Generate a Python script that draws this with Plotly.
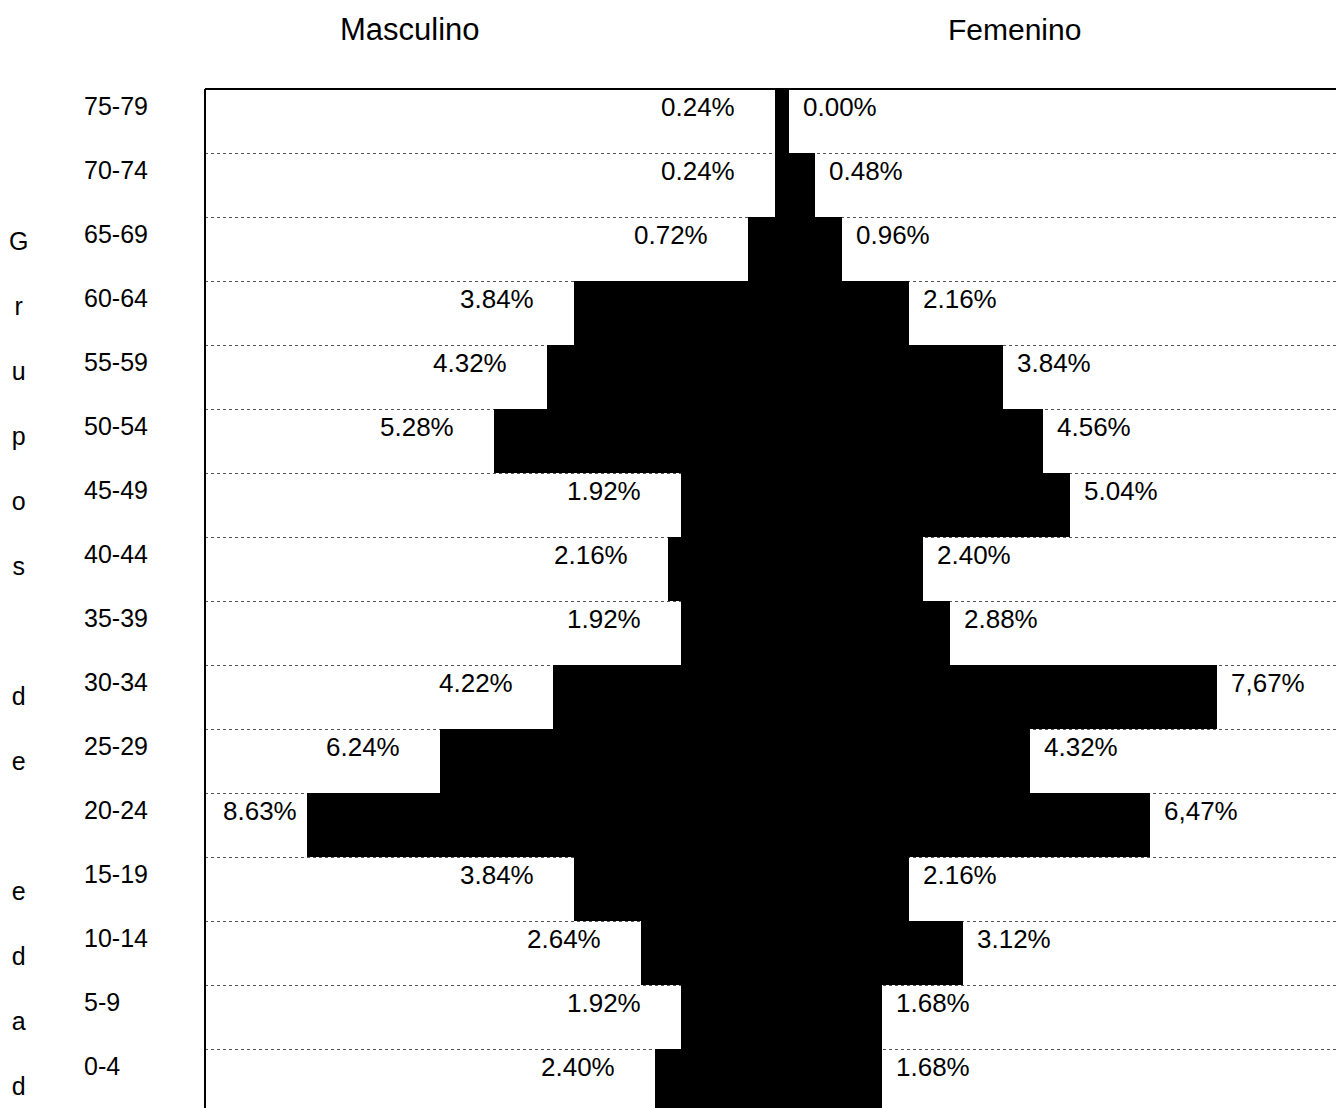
import plotly.graph_objects as go

# Age groups, bottom to top
age_groups = ['0-4', '5-9', '10-14', '15-19', '20-24', '25-29', '30-34', '35-39',
              '40-44', '45-49', '50-54', '55-59', '60-64', '65-69', '70-74', '75-79']
male_pct = [2.40, 1.92, 2.64, 3.84, 8.63, 6.24, 4.22, 1.92,
            2.16, 1.92, 5.28, 4.32, 3.84, 0.72, 0.24, 0.24]
female_pct = [1.68, 1.68, 3.12, 2.16, 6.47, 4.32, 7.67, 2.88,
              2.40, 5.04, 4.56, 3.84, 2.16, 0.96, 0.48, 0.00]
male_labels = ['2.40%', '1.92%', '2.64%', '3.84%', '8.63%', '6.24%', '4.22%', '1.92%',
               '2.16%', '1.92%', '5.28%', '4.32%', '3.84%', '0.72%', '0.24%', '0.24%']
female_labels = ['1.68%', '1.68%', '3.12%', '2.16%', '6,47%', '4.32%', '7,67%', '2.88%',
                 '2.40%', '5.04%', '4.56%', '3.84%', '2.16%', '0.96%', '0.48%', '0.00%']
axis_title = 'Grupos de edad'
side_titles = ['Masculino', 'Femenino']

FONT = 'Liberation Sans, Arial, sans-serif'
LABEL_SIZE = 26
ypos = list(range(len(age_groups)))

# layout geometry
W, H = 1336, 1108
ML, MT = 205, 89
XR = [-10.45, 9.80]
plot_w = W - ML


def to_px(v):
    return ML + (v - XR[0]) / (XR[1] - XR[0]) * plot_w


def text_w(s, size):
    widths = {'.': 0.278, ',': 0.278, '%': 0.889}
    return sum(widths.get(c, 0.556) for c in s) * size


fig = go.Figure()
fig.add_trace(go.Bar(y=ypos, x=[-v for v in male_pct], orientation='h', width=1,
                     marker=dict(color='black', line=dict(width=0)), name=side_titles[0]))
fig.add_trace(go.Bar(y=ypos, x=female_pct, orientation='h', width=1,
                     marker=dict(color='black', line=dict(width=0)), name=side_titles[1]))

ann = []
for i in ypos:
    # male label: right of it sits ~38px before bar end, but keep inside the frame
    bar_end = to_px(-male_pct[i])
    lw = text_w(male_labels[i], LABEL_SIZE)
    left_edge = bar_end - 38 - lw
    if left_edge < ML + 16:
        ann.append(dict(x=16 / plot_w, y=i, xref='paper', yref='y', text=male_labels[i],
                        showarrow=False, xanchor='left', yanchor='middle', yshift=14,
                        font=dict(size=LABEL_SIZE, color='black', family=FONT)))
    else:
        ann.append(dict(x=-male_pct[i], y=i, xref='x', yref='y', text=male_labels[i],
                        showarrow=False, xanchor='right', yanchor='middle', xshift=-38, yshift=14,
                        font=dict(size=LABEL_SIZE, color='black', family=FONT)))
    ann.append(dict(x=female_pct[i], y=i, xref='x', yref='y', text=female_labels[i],
                    showarrow=False, xanchor='left', yanchor='middle', xshift=12, yshift=14,
                    font=dict(size=LABEL_SIZE, color='black', family=FONT)))
    ann.append(dict(x=-123 / plot_w, y=i, xref='paper', yref='y', text=age_groups[i],
                    showarrow=False, xanchor='left', yanchor='middle', yshift=15,
                    font=dict(size=25, color='black', family=FONT)))

# vertical axis title, one letter per row slot
letters = []
for w_i, word in enumerate(axis_title.split(' ')):
    if w_i > 0:
        letters.append('')
    letters.extend(list(word))
vert = '<br><br>'.join(letters)
ann.append(dict(x=-187 / plot_w, y=0.436, xref='paper', yref='paper', text=vert, showarrow=False,
                xanchor='center', yanchor='middle', align='center',
                font=dict(size=25, color='black', family=FONT)))

ann.append(dict(x=0.181, y=1.058, xref='paper', yref='paper', text=side_titles[0],
                showarrow=False, xanchor='center', yanchor='middle',
                font=dict(size=31, color='black', family=FONT)))
ann.append(dict(x=0.716, y=1.058, xref='paper', yref='paper', text=side_titles[1],
                showarrow=False, xanchor='center', yanchor='middle',
                font=dict(size=30, color='black', family=FONT)))

shapes = [
    dict(type='line', xref='paper', yref='paper', x0=0, x1=1, y0=1, y1=1,
         line=dict(color='black', width=2), layer='above'),
    dict(type='line', xref='paper', yref='paper', x0=0, x1=0, y0=0, y1=1,
         line=dict(color='black', width=2), layer='above'),
]

fig.update_layout(
    width=W, height=H,
    margin=dict(l=ML, r=0, t=MT, b=0),
    paper_bgcolor='white', plot_bgcolor='white',
    barmode='relative', bargap=0, showlegend=False,
    annotations=ann, shapes=shapes,
    xaxis=dict(range=XR, showgrid=False, zeroline=False, showticklabels=False,
               ticks='', showline=False),
    yaxis=dict(range=[-0.42, len(age_groups) - 0.5], showgrid=False, zeroline=False,
               showticklabels=False, ticks='', showline=False,
               minor=dict(tickmode='array',
                          tickvals=[i + 0.5 for i in range(len(age_groups) - 1)],
                          showgrid=True, gridcolor='#555555', griddash='dot', gridwidth=1,
                          ticks='')),
)

fig.write_html('out.html')
